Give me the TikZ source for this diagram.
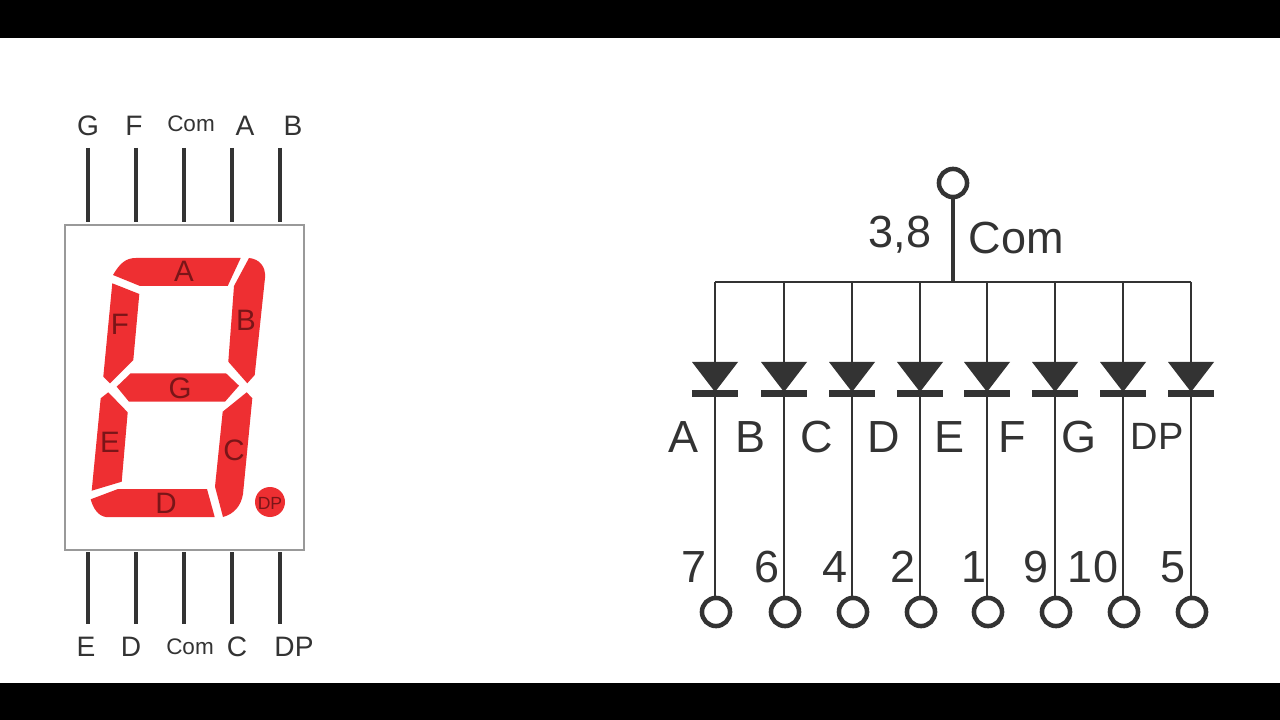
\documentclass[tikz,border=0pt]{standalone}
\usepackage{fontspec}
\setmainfont{Liberation Sans}
\definecolor{inkgrey}{HTML}{333333}
\definecolor{segred}{HTML}{EE2F32}
\definecolor{seglabel}{HTML}{7A1518}
\definecolor{boxgrey}{HTML}{999999}
\tikzset{
  wire/.style={draw=inkgrey,line width=1.9pt},
  pin/.style={draw=inkgrey,line width=2.8pt},
  pad/.style={circle,draw=inkgrey,line width=3.2pt,minimum size=20pt,inner sep=0pt},
  pinlabel/.style={text=inkgrey,inner sep=0pt,font=\fontsize{20}{20}\selectfont},
  comlabel/.style={text=inkgrey,inner sep=0pt,font=\fontsize{16}{16}\selectfont},
  biglabel/.style={text=inkgrey,inner sep=0pt,font=\fontsize{32}{32}\selectfont},
  seglabel/.style={text=seglabel,inner sep=0pt,font=\fontsize{21}{21}\selectfont},
  seg/.style={fill=segred},
}
\begin{document}
\begin{tikzpicture}[x=.025cm,y=-.025cm]
\fill[black] (0,0) rectangle (1280,720);
\fill[white] (0,38) rectangle (1280,683);
\draw[boxgrey,line width=1pt,fill=white] (65,225) rectangle (304,550);
\foreach \x/\lab/\lx [count=\i] in {88/G/88,136/F/134,232/A/245,280/B/293}{
  \coordinate (tpa\i) at (\x,148);
  \coordinate (tpb\i) at (\x,222);
  \draw[pin] (tpa\i)--(tpb\i);
  \node[pinlabel] (tl\i) at (\lx,126){\lab};
}
\foreach \x/\lab/\lx [count=\i] in {88/E/86,136/D/131,232/C/237,280/DP/294}{
  \coordinate (bpa\i) at (\x,552);
  \coordinate (bpb\i) at (\x,624);
  \draw[pin] (bpa\i)--(bpb\i);
  \node[pinlabel] (bl\i) at (\lx,647){\lab};
}
\coordinate (tpc) at (184,148);
\coordinate (tpd) at (184,222);
\coordinate (bpc) at (184,552);
\coordinate (bpd) at (184,624);
\draw[pin] (tpc)--(tpd);
\draw[pin] (bpc)--(bpd);
\node[comlabel] (tcom) at (191,124){Com};
\node[comlabel] (bcom) at (190,647){Com};
% segments
\fill[seg] (240.7,258) -- (227.7,286) -- (140,286) -- (113,275) .. controls (120,263) and (126,258) .. (136,258) -- cycle;
\fill[seg] (249,258) .. controls (259,259) and (266,266) .. (265,278) -- (254.7,375) -- (247.3,383.3) -- (228.3,361.7) -- (234,286) -- cycle;
\fill[seg] (112.3,283.3) -- (139.3,294) -- (133.3,360) -- (110,383.3) -- (103.3,376.7) -- cycle;
\fill[seg] (130.7,373.3) -- (226,373.3) -- (239,385.7) -- (225,401.7) -- (129,401.7) -- (116.7,386.7) -- cycle;
\fill[seg] (108.3,392.3) -- (127.7,412.3) -- (121.7,481.7) -- (91.7,490.7) -- (100.7,398.3) -- cycle;
\fill[seg] (246.7,392.3) -- (252.3,398.3) -- (243,494) .. controls (241,506) and (234,514) .. (223,517) -- (215,486.7) -- (222.7,411.7) -- cycle;
\fill[seg] (118,489) -- (207,489) -- (214.7,517) -- (106,517) .. controls (98,516) and (93,508) .. (90.7,499.3) -- cycle;
\fill[seg] (270,502) circle (15);
\node[seglabel] (sa) at (184,271){A};
\node[seglabel] (sb) at (246,320){B};
\node[seglabel] (sf) at (120,324){F};
\node[seglabel] (sg) at (180,388){G};
\node[seglabel] (se) at (110,442){E};
\node[seglabel] (sc) at (234,450){C};
\node[seglabel] (sd) at (166,503){D};
\node[seglabel,font=\fontsize{12.5}{13}\selectfont] (sdp) at (270,503){DP};
% circuit
\node[pad] (compad) at (953,183){};
\coordinate (comjoin) at (953,282);
\draw[draw=inkgrey,line width=3pt] (compad)--(comjoin);
\node[biglabel] (pins) at (900,235){3,8};
\node[biglabel] (comname) at (1016,238){Com};
\foreach \x/\seglab/\slx/\num/\nx [count=\i] in {715/A/683/7/694,784/B/750/6/767,852/C/817/4/835,920/D/884/2/903,987/E/949/1/974,1055/F/1012/9/1036,1123/G/1079/10/1093,1191/DP/1157/5/1173}{
  \coordinate (bus\i) at (\x,282);
  \coordinate (foot\i) at (\x,598);
  \node[pad] (leg\i) at (\x+1,612){};
  \draw[wire] (bus\i)--(foot\i);
  \fill[inkgrey] (\x-23,362)--(\x+23,362)--(\x,392)--cycle;
  \fill[inkgrey] (\x-23,390) rectangle (\x+23,397);
  \ifnum\i=8
    \node[biglabel,font=\fontsize{27}{27}\selectfont] (name\i) at (\slx,436){\seglab};
  \else
    \node[biglabel] (name\i) at (\slx,437){\seglab};
  \fi
  \node[biglabel] (num\i) at (\nx,567){\num};
}
\draw[wire] (bus1)--(bus8);
\end{tikzpicture}
\end{document}
